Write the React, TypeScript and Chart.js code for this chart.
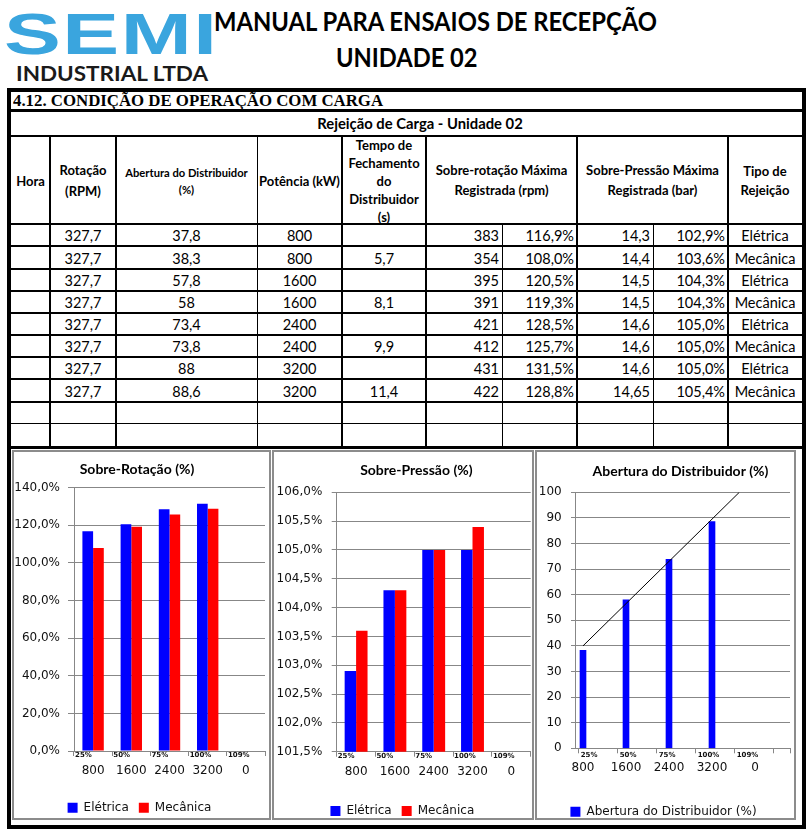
import React, { useEffect, useRef } from 'react';
import { Chart, registerables } from 'chart.js';

Chart.register(...registerables);

// ---------------- data ----------------
const potenciaLabels = ['800', '1600', '2400', '3200', '0'];
const cargaLabels = ['25%', '50%', '75%', '100%', '109%'];

const sobreRotacaoEletrica = [116.9, 120.5, 128.5, 131.5];
const sobreRotacaoMecanica = [108.0, 119.3, 125.7, 128.8];

const sobrePressaoEletrica = [102.9, 104.3, 105.0, 105.0];
const sobrePressaoMecanica = [103.6, 104.3, 105.0, 105.4];

const aberturaDistribuidor = [38.3, 58.0, 73.8, 88.6];
const tendenciaX = [0, 3.635];
const tendenciaY = [40, 100];

// table
const tabRotacao = ['327,7', '327,7', '327,7', '327,7', '327,7', '327,7', '327,7', '327,7'];
const tabAbertura = ['37,8', '38,3', '57,8', '58', '73,4', '73,8', '88', '88,6'];
const tabPotencia = ['800', '800', '1600', '1600', '2400', '2400', '3200', '3200'];
const tabTempo = ['', '5,7', '', '8,1', '', '9,9', '', '11,4'];
const tabRpm = ['383', '354', '395', '391', '421', '412', '431', '422'];
const tabRpmPct = ['116,9%', '108,0%', '120,5%', '119,3%', '128,5%', '125,7%', '131,5%', '128,8%'];
const tabBar = ['14,3', '14,4', '14,5', '14,5', '14,6', '14,6', '14,6', '14,65'];
const tabBarPct = ['102,9%', '103,6%', '104,3%', '104,3%', '105,0%', '105,0%', '105,0%', '105,4%'];
const tabTipo = ['Elétrica', 'Mecânica', 'Elétrica', 'Mecânica', 'Elétrica', 'Mecânica', 'Elétrica', 'Mecânica'];

// ---------------- styles ----------------
const BLUE = '#0000ff';
const RED = '#ff0000';
const GRID = '#878787';
const TEXT = '#111111';
const AXIS_FONT = { family: "'DejaVu Sans'", size: 12 };
const SMALL_FONT = { family: "'DejaVu Sans'", size: 7, weight: 'bold' };
const TITLE_FONT = { family: 'Lato', size: 14, weight: 'bold' };

const pct = (v: number, d: number) => v.toFixed(d).replace('.', ',') + '%';

const titleShift = {
  id: 'titleShift',
  afterLayout(chart: any, _args: any, opts: any) {
    const t = chart.titleBlock;
    if (t && opts && opts.dx) {
      t.left += opts.dx;
      t.right += opts.dx;
    }
  },
};

function groupedConfig(p: any): any {
  return {
    type: 'bar',
    data: {
      labels: potenciaLabels,
      datasets: [
        { label: 'Elétrica', data: p.eletrica, backgroundColor: BLUE, borderWidth: 0, barPercentage: 1, categoryPercentage: p.catPct },
        { label: 'Mecânica', data: p.mecanica, backgroundColor: RED, borderWidth: 0, barPercentage: 1, categoryPercentage: p.catPct },
      ],
    },
    options: {
      animation: false,
      responsive: false,
      events: [],
      layout: { padding: { left: 0, top: 0, right: p.padRight, bottom: p.padBottom } },
      plugins: {
        title: { display: true, text: p.title, color: '#000', font: TITLE_FONT, padding: { top: p.titleTop, bottom: p.titleBottom } },
        legend: { position: 'bottom', labels: { boxWidth: 10, boxHeight: 10, padding: 10, color: TEXT, font: AXIS_FONT } },
        tooltip: { enabled: false },
        titleShift: { dx: p.titleDx },
      },
      scales: {
        x: {
          type: 'category', labels: cargaLabels, position: 'bottom', offset: true, weight: 0,
          grid: { offset: true, drawOnChartArea: false, drawTicks: true, tickLength: 5, color: GRID },
          border: { display: true, color: GRID },
          ticks: { autoSkip: false, maxRotation: 0, minRotation: 0, align: 'start', labelOffset: p.smallOffset, padding: p.smallPad, color: TEXT, font: SMALL_FONT },
          afterFit: (s: any) => { s.height = 10; },
        },
        x2: {
          type: 'category', axis: 'x', labels: potenciaLabels, position: 'bottom', offset: true, weight: 1,
          grid: { display: false, drawTicks: false },
          border: { display: false },
          ticks: { autoSkip: false, maxRotation: 0, minRotation: 0, padding: p.numPad, color: TEXT, font: AXIS_FONT },
          afterFit: (s: any) => { s.height = p.numHeight; },
        },
        y: {
          type: 'linear', position: 'left', min: p.yMin, max: p.yMax,
          grid: { color: GRID, tickLength: p.yTickLen, drawTicks: true },
          border: { color: GRID },
          ticks: { stepSize: p.yStep, padding: p.yPad, color: TEXT, font: AXIS_FONT, callback: (v: number) => pct(v, 1) },
          afterFit: (s: any) => { s.width = p.yWidth; },
        },
      },
    },
    plugins: [titleShift],
  };
}

const X3_MIN = -0.186;
const X3_MAX = 4.814;

function aberturaConfig(): any {
  return {
    type: 'bar',
    data: {
      datasets: [
        {
          type: 'line', label: 'Tendência',
          data: tendenciaX.map((x, i) => ({ x, y: tendenciaY[i] })),
          borderColor: '#000', borderWidth: 1, pointRadius: 0, fill: false, order: -1,
        },
        {
          type: 'bar', label: 'Abertura do Distribuidor (%)',
          data: aberturaDistribuidor.map((y, i) => ({ x: i, y })),
          backgroundColor: BLUE, borderWidth: 0, barThickness: 6,
        },
      ],
    },
    options: {
      animation: false,
      responsive: false,
      events: [],
      layout: { padding: { left: 0, top: 0, right: 4, bottom: 2.3 } },
      plugins: {
        title: { display: true, text: 'Abertura do Distribuidor (%)', color: '#000', font: TITLE_FONT, padding: { top: 11.3, bottom: 12.2 } },
        legend: {
          position: 'bottom',
          labels: { boxWidth: 10, boxHeight: 10, padding: 10, color: TEXT, font: AXIS_FONT, filter: (item: any) => item.text !== 'Tendência' },
        },
        tooltip: { enabled: false },
        titleShift: { dx: 17 },
      },
      scales: {
        x: {
          type: 'linear', min: X3_MIN, max: X3_MAX, bounds: 'data', offset: false, position: 'bottom', weight: 0,
          grid: { offset: false, drawOnChartArea: false, drawTicks: true, tickLength: 5, color: GRID },
          border: { display: true, color: GRID },
          afterBuildTicks: (s: any) => {
            s.ticks = [0, 1, 2, 3, 4, 5].map((i) => ({ value: -0.1 + 0.907 * i })).concat([{ value: X3_MAX }]);
          },
          ticks: {
            autoSkip: false, maxRotation: 0, minRotation: 0, align: 'start', labelOffset: 2, padding: -2.5,
            color: TEXT, font: SMALL_FONT, callback: (_v: any, i: number) => cargaLabels[i] ?? '',
          },
          afterFit: (s: any) => { s.height = 10; },
        },
        x2: {
          type: 'linear', axis: 'x', min: X3_MIN, max: X3_MAX, bounds: 'data', offset: false, position: 'bottom', weight: 1,
          grid: { display: false, drawTicks: false },
          border: { display: false },
          afterBuildTicks: (s: any) => { s.ticks = potenciaLabels.map((_l, i) => ({ value: i })); },
          ticks: {
            autoSkip: false, maxRotation: 0, minRotation: 0, padding: 2.8, color: TEXT, font: AXIS_FONT,
            callback: (_v: any, i: number) => potenciaLabels[i],
          },
          afterFit: (s: any) => { s.height = 37.4; },
        },
        y: {
          type: 'linear', position: 'left', min: 0, max: 100,
          grid: { color: GRID, tickLength: 4, drawTicks: true },
          border: { color: GRID },
          ticks: { stepSize: 10, padding: 9.3, color: TEXT, font: AXIS_FONT, callback: (v: number) => String(v) },
          afterFit: (s: any) => { s.width = 38; },
        },
      },
    },
    plugins: [titleShift],
  };
}

function ChartCanvas({ left, top, width, height, build }: any) {
  const ref = useRef<HTMLCanvasElement>(null);
  useEffect(() => {
    const chart = new Chart(ref.current as HTMLCanvasElement, build());
    return () => chart.destroy();
  }, []);
  return (
    <canvas
      ref={ref}
      width={width}
      height={height}
      style={{ position: 'absolute', left, top, width, height }}
    />
  );
}

// ---------------- table layout ----------------
const COLS = [11, 50, 116, 257, 342, 426, 502, 577, 653, 728, 802];
const VLINE_W = [0, 2, 2, 1, 2, 2, 1, 2, 1, 2, 0];
const HEADER_TOP = 137;
const BODY_TOP = 224.3;
const ROW_H = 22.17;
const N_ROWS = 10;
const TABLE_BOTTOM = 446;

const headers = [
  { c0: 0, c1: 1, lines: ['Hora'], lh: 18, size: 13 },
  { c0: 1, c1: 2, lines: ['Rotação', '(RPM)'], lh: 21, size: 13 },
  { c0: 2, c1: 3, lines: ['Abertura do Distribuidor', '(%)'], lh: 17, size: 11.2 },
  { c0: 3, c1: 4, lines: ['Potência (kW)'], lh: 18, size: 13 },
  { c0: 4, c1: 5, lines: ['Tempo de', 'Fechamento', 'do', 'Distribuidor', '(s)'], lh: 18, size: 13 },
  { c0: 5, c1: 7, lines: ['Sobre-rotação Máxima', 'Registrada (rpm)'], lh: 19.3, size: 13 },
  { c0: 7, c1: 9, lines: ['Sobre-Pressão Máxima', 'Registrada (bar)'], lh: 19.3, size: 13 },
  { c0: 9, c1: 10, lines: ['Tipo de', 'Rejeição'], lh: 18.3, size: 13 },
];

const dataCols = [
  { vals: tabRotacao, c: 1, right: false },
  { vals: tabAbertura, c: 2, right: false },
  { vals: tabPotencia, c: 3, right: false },
  { vals: tabTempo, c: 4, right: false },
  { vals: tabRpm, c: 5, right: true },
  { vals: tabRpmPct, c: 6, right: true },
  { vals: tabBar, c: 7, right: true },
  { vals: tabBarPct, c: 8, right: true },
  { vals: tabTipo, c: 9, right: false },
];

function blk(key: string, left: number, top: number, width: number, height: number, color = '#000') {
  return <div key={key} style={{ position: 'absolute', left, top, width, height, background: color }} />;
}

export default function App() {
  const lines: any[] = [];
  lines.push(blk('ft', 7, 88, 799, 4));
  lines.push(blk('fl', 7, 88, 4, 741));
  lines.push(blk('fr', 802, 88, 4, 741));
  lines.push(blk('fb', 7, 825, 799, 4));
  lines.push(blk('h1', 7, 108.5, 799, 3));
  lines.push(blk('h2', 7, 134.5, 799, 2.5));
  lines.push(blk('h3', 7, BODY_TOP - 1, 799, 2));
  for (let i = 1; i < N_ROWS; i++) {
    lines.push(blk('r' + i, 7, BODY_TOP + i * ROW_H - 1, 799, i === 9 ? 1 : 2));
  }
  lines.push(blk('hb', 7, TABLE_BOTTOM, 799, 3));
  for (let c = 1; c < COLS.length - 1; c++) {
    const top = c === 6 || c === 8 ? BODY_TOP : HEADER_TOP;
    lines.push(blk('v' + c, COLS[c] - VLINE_W[c] / 2, top, VLINE_W[c], TABLE_BOTTOM - top));
  }

  const cells: any[] = [];
  headers.forEach((h, k) => {
    cells.push(
      <div
        key={'hd' + k}
        style={{
          position: 'absolute', left: COLS[h.c0] + 1, top: HEADER_TOP, width: COLS[h.c1] - COLS[h.c0] - 2,
          height: BODY_TOP - HEADER_TOP, display: 'flex', flexDirection: 'column', alignItems: 'center',
          justifyContent: 'center', fontWeight: 700, fontSize: h.size, lineHeight: h.lh + 'px',
          textAlign: 'center', whiteSpace: 'nowrap',
        }}
      >
        {h.lines.map((l, j) => <div key={j}>{l}</div>)}
      </div>
    );
  });
  dataCols.forEach((dc, k) => {
    dc.vals.forEach((v, r) => {
      cells.push(
        <div
          key={'d' + k + '_' + r}
          style={{
            position: 'absolute', left: COLS[dc.c] + 1, top: BODY_TOP + r * ROW_H + 1,
            width: COLS[dc.c + 1] - COLS[dc.c] - 2, height: ROW_H, display: 'flex', alignItems: 'center',
            justifyContent: dc.right ? 'flex-end' : 'center', paddingRight: dc.right ? 2 : 0,
            boxSizing: 'border-box', fontSize: 14.5, lineHeight: '16px', whiteSpace: 'nowrap',
          }}
        >
          {v}
        </div>
      );
    });
  });

  const frame = (key: string, left: number, width: number) => (
    <div
      key={key}
      style={{ position: 'absolute', left, top: 450, width, height: 370, border: '2px solid #8c8c8c', boxSizing: 'border-box' }}
    />
  );

  return (
    <div
      style={{
        position: 'absolute', left: 0, top: 0, width: 812, height: 829, overflow: 'hidden',
        background: '#fff', fontFamily: 'Lato, sans-serif', color: '#000',
      }}
    >
      {/* logo */}
      <div
        style={{
          position: 'absolute', left: 4, top: 5.4, fontFamily: "'Liberation Sans', Arial, sans-serif",
          fontWeight: 700, fontSize: 58, lineHeight: '58px', color: '#3aa5de', transform: 'scaleX(1.47)',
          transformOrigin: 'left top', letterSpacing: 1, whiteSpace: 'nowrap',
        }}
      >
        SEMI
      </div>
      <div
        style={{
          position: 'absolute', left: 16, top: 61, fontSize: 21, fontWeight: 700, lineHeight: '24px', color: '#1a1a1a',
          whiteSpace: 'nowrap', transform: 'scaleX(1.07)', transformOrigin: 'left top',
        }}
      >
        INDUSTRIAL LTDA
      </div>
      <div
        style={{
          position: 'absolute', left: 214, top: 6, fontSize: 26, fontWeight: 700, lineHeight: '31px', whiteSpace: 'nowrap',
          transform: 'scaleX(0.915)', transformOrigin: 'left top',
        }}
      >
        MANUAL PARA ENSAIOS DE RECEPÇÃO
      </div>
      <div
        style={{
          position: 'absolute', left: 336, top: 42, fontSize: 26, fontWeight: 700, lineHeight: '31px', whiteSpace: 'nowrap',
          transform: 'scaleX(0.91)', transformOrigin: 'left top',
        }}
      >
        UNIDADE 02
      </div>

      {/* table */}
      <div
        style={{
          position: 'absolute', left: 13, top: 92, height: 17, lineHeight: '17px', fontFamily: "'Liberation Serif', serif",
          fontWeight: 700, fontSize: 16, whiteSpace: 'nowrap', transform: 'scaleX(1.05)', transformOrigin: 'left top',
        }}
      >
        4.12. CONDIÇÃO DE OPERAÇÃO COM CARGA
      </div>
      <div
        style={{
          position: 'absolute', left: 320, top: 111.5, width: 200, height: 23, display: 'flex', alignItems: 'center',
          justifyContent: 'center', fontWeight: 700, fontSize: 14.8, whiteSpace: 'nowrap',
        }}
      >
        Rejeição de Carga - Unidade 02
      </div>
      {cells}
      {lines}

      {/* chart frames */}
      {frame('f1', 11.5, 259)}
      {frame('f2', 271.5, 262)}
      {frame('f3', 535, 261)}

      <ChartCanvas
        left={14}
        top={452}
        width={255}
        height={378}
        build={() =>
          groupedConfig({
            title: 'Sobre-Rotação (%)', titleDx: -2.5, titleTop: 8.9, titleBottom: 10,
            eletrica: sobreRotacaoEletrica, mecanica: sobreRotacaoMecanica, catPct: 0.56,
            padRight: 4, padBottom: 6.3,
            smallOffset: -18, smallPad: -5.2, numPad: 2.5, numHeight: 30.7,
            yMin: 0, yMax: 140, yStep: 20, yTickLen: 6, yPad: 8, yWidth: 60,
          })
        }
      />
      <ChartCanvas
        left={274}
        top={452}
        width={259}
        height={378}
        build={() =>
          groupedConfig({
            title: 'Sobre-Pressão (%)', titleDx: 14, titleTop: 9.6, titleBottom: 13.9,
            eletrica: sobrePressaoEletrica, mecanica: sobrePressaoMecanica, catPct: 0.59,
            padRight: 2.3, padBottom: 3,
            smallOffset: -18.4, smallPad: -4.9, numPad: 2.8, numHeight: 33.3,
            yMin: 101.5, yMax: 106, yStep: 0.5, yTickLen: 5, yPad: 9.4, yWidth: 62.7,
          })
        }
      />
      <ChartCanvas left={537} top={452} width={257} height={378} build={aberturaConfig} />
    </div>
  );
}
